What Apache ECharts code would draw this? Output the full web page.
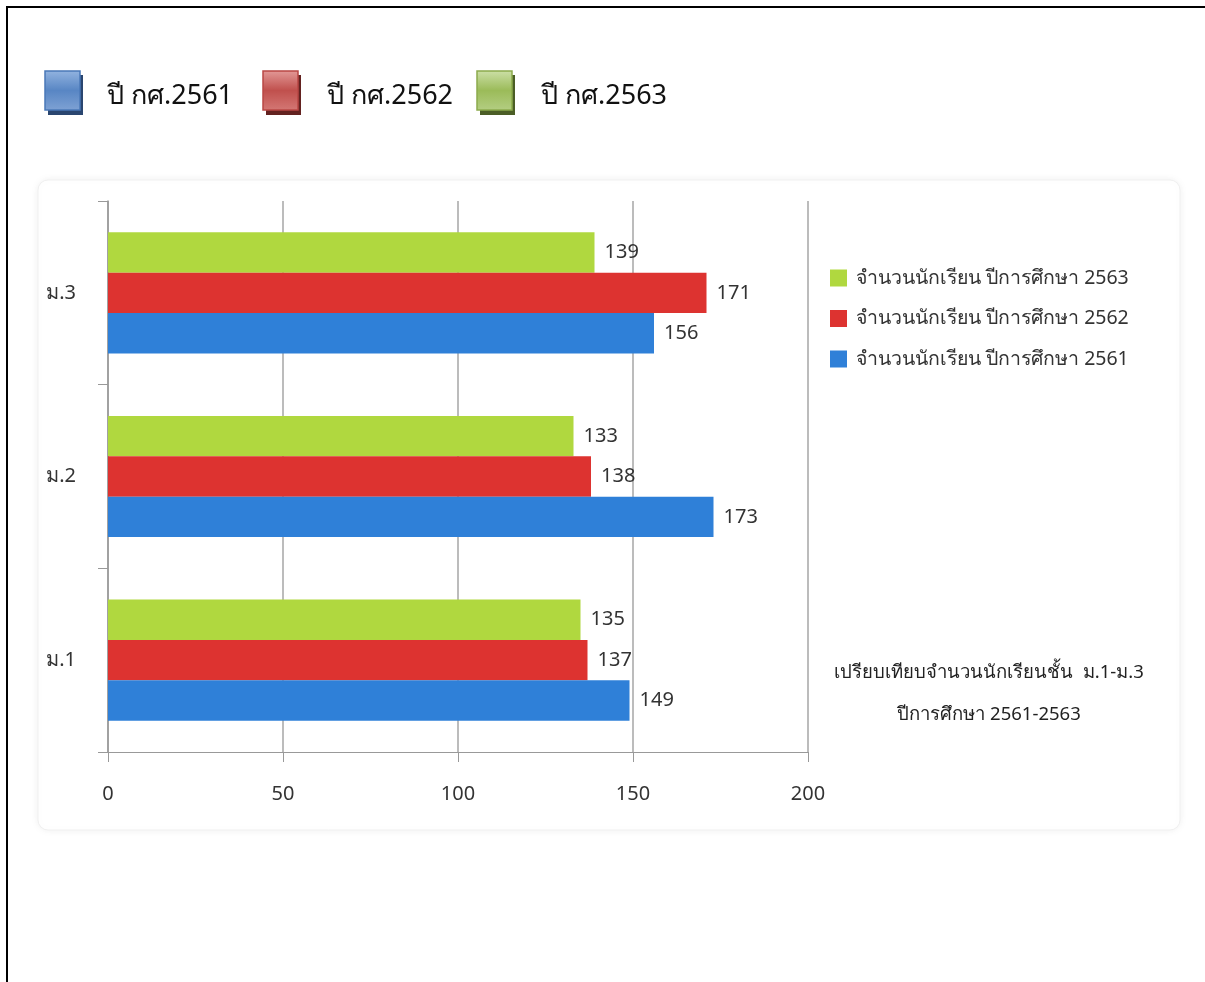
<!DOCTYPE html>
<html>
<head>
<meta charset="utf-8">
<script src="https://cdn.jsdelivr.net/npm/echarts@6/dist/echarts.min.js"></script>
<style>
html,body{margin:0;padding:0;background:#fff;}
#c{width:1205px;height:982px;}
</style>
</head>
<body>
<div id="c"></div>
<script>
// ---- data ----
var categories = ['ม.1', 'ม.2', 'ม.3'];
var years = ['2561', '2562', '2563'];
var values2561 = [149, 173, 156];
var values2562 = [137, 138, 171];
var values2563 = [135, 133, 139];
var xTicks = [0, 50, 100, 150, 200];
var seriesNames = years.map(function (y) { return 'จำนวนนักเรียน ปีการศึกษา ' + y; });
var topLegendLabels = years.map(function (y) { return 'ปี กศ.' + y; });
var subtitleLines = ['เปรียบเทียบจำนวนนักเรียนชั้น  ม.1-ม.3', 'ปีการศึกษา 2561-2563'];

// ---- styles ----
var barColors = ['#2F80D8', '#DD3330', '#B0D83F'];
var iconStyles = [
  {top: '#93B4E0', mid: '#5886C4', bot: '#7FA2D4', border: '#4A78B8', shadow: '#2A4670'},
  {top: '#E39A98', mid: '#C0504D', bot: '#D47875', border: '#B94744', shadow: '#632220'},
  {top: '#CDE0A8', mid: '#9BBB59', bot: '#B4CE83', border: '#8CAB4C', shadow: '#4B5E26'}
];
var FONT = "'Noto Sans', 'DejaVu Sans', sans-serif";

var allValues = [values2561, values2562, values2563];
var series = allValues.map(function (vals, i) {
  return {
    name: seriesNames[i],
    type: 'bar',
    data: vals,
    barGap: '0%',
    barCategoryGap: '34%',
    itemStyle: {color: barColors[i]},
    label: {show: true, position: 'right', distance: 10, fontSize: 20, color: '#333', fontFamily: FONT}
  };
}).reverse(); // ECharts stacks the first series at the top of each band

var graphic = [
  // page frame (top & left)
  {type: 'line', shape: {x1: 6, y1: 7, x2: 1205, y2: 7}, style: {stroke: '#000', lineWidth: 2}, z: 10},
  {type: 'line', shape: {x1: 7, y1: 6, x2: 7, y2: 982}, style: {stroke: '#000', lineWidth: 2}, z: 10},
  // card
  {type: 'rect', shape: {x: 38, y: 180, width: 1142, height: 650, r: 10},
   style: {fill: '#fff', stroke: '#f0f0f0', lineWidth: 1, shadowBlur: 8, shadowColor: 'rgba(0,0,0,0.06)'}, z: -10}
];
var iconX = [45, 263, 477];
var textX = [107, 327, 541];
years.forEach(function (y, i) {
  var s = iconStyles[i];
  graphic.push({type: 'rect', shape: {x: iconX[i] + 3, y: 75, width: 35, height: 40},
    style: {fill: s.shadow}, z: -5});
  graphic.push({type: 'rect', shape: {x: iconX[i], y: 71, width: 35, height: 39},
    style: {fill: {type: 'linear', x: 0, y: 0, x2: 0, y2: 1, colorStops: [
      {offset: 0, color: s.top}, {offset: 0.5, color: s.mid}, {offset: 1, color: s.bot}]},
      stroke: s.border, lineWidth: 1.5}, z: -4});
  graphic.push({type: 'text', x: textX[i], y: 96,
    style: {text: topLegendLabels[i], font: '27px ' + FONT, fill: '#111', textVerticalAlign: 'middle'}, z: -4});
});
subtitleLines.forEach(function (t, i) {
  graphic.push({type: 'text', x: 989, y: 673 + i * 42,
    style: {text: t, font: '18.5px ' + FONT, fill: '#222', textAlign: 'center', textVerticalAlign: 'middle'}});
});

var chart = echarts.init(document.getElementById('c'));
chart.setOption({
  animation: false,
  backgroundColor: '#fff',
  textStyle: {fontFamily: FONT},
  graphic: graphic,
  legend: {
    orient: 'vertical', left: 830, top: 268, padding: 0,
    data: seriesNames.slice().reverse(),
    icon: 'rect', itemWidth: 17, itemHeight: 17, itemGap: 20.5,
    textStyle: {fontSize: 19.5, color: '#333', fontFamily: FONT, padding: [0, 0, 0, 4]}
  },
  grid: {left: 108, right: 397, top: 201, bottom: 230, containLabel: false},
  xAxis: {
    type: 'value', min: xTicks[0], max: xTicks[xTicks.length - 1], interval: xTicks[1] - xTicks[0],
    axisLine: {show: true, lineStyle: {color: '#999'}},
    axisTick: {show: true, length: 10, lineStyle: {color: '#999'}},
    splitLine: {show: true, lineStyle: {color: '#a6a6a6', width: 1.5}},
    axisLabel: {fontSize: 20, color: '#333', margin: 32, fontFamily: FONT}
  },
  yAxis: {
    type: 'category', data: categories,
    axisLine: {show: true, lineStyle: {color: '#999', width: 1.5}},
    axisTick: {show: true, length: 10, lineStyle: {color: '#999'}},
    axisLabel: {fontSize: 20, color: '#333', margin: 32, fontFamily: FONT}
  },
  series: series
});
</script>
</body>
</html>
